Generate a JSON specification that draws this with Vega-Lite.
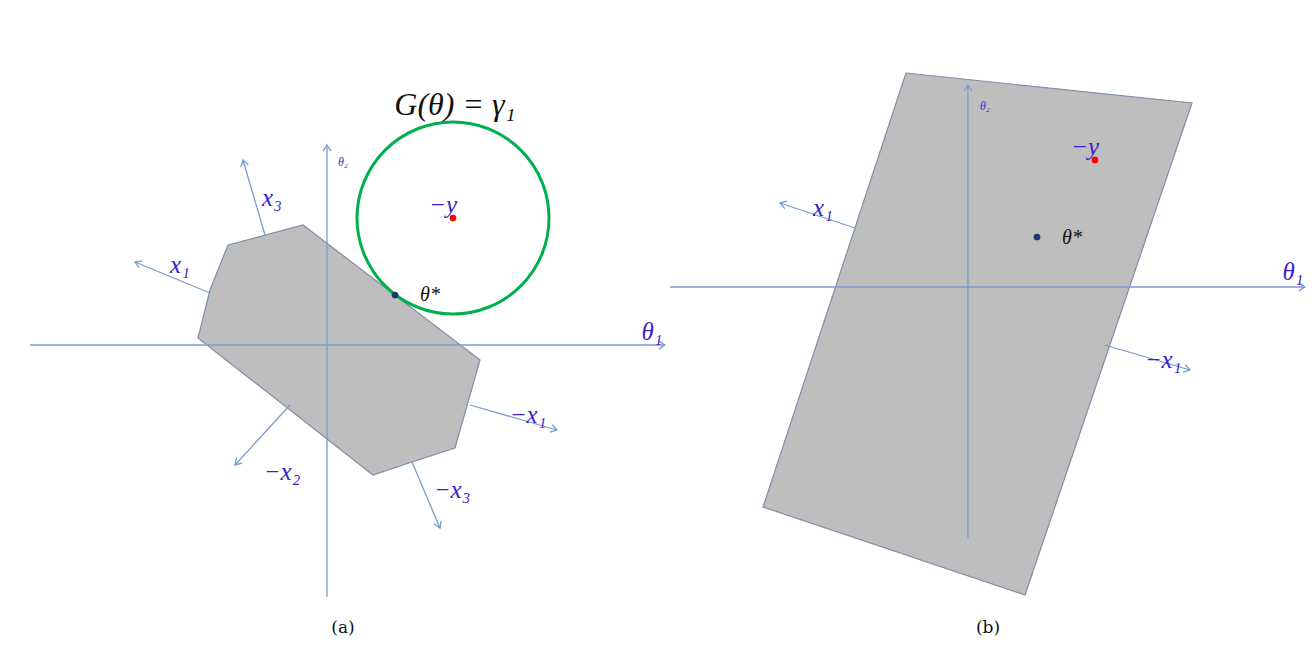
{
"$schema":"https://vega.github.io/schema/vega-lite/v6.json",
"width":1315,"height":645,"autosize":{"type":"none"},"padding":0,
"background":"white","config":{"view":{"stroke":null}},
"datasets":{
"poly":[
{"p":"a","i":0,"x":228,"y":245},{"p":"a","i":1,"x":303,"y":225},{"p":"a","i":2,"x":480,"y":360},{"p":"a","i":3,"x":455,"y":448},{"p":"a","i":4,"x":412,"y":462},{"p":"a","i":5,"x":373,"y":475},{"p":"a","i":6,"x":198,"y":338},{"p":"a","i":7,"x":210,"y":290},{"p":"a","i":8,"x":228,"y":245},
{"p":"b","i":0,"x":906,"y":73},{"p":"b","i":1,"x":1192,"y":103},{"p":"b","i":2,"x":1025,"y":595},{"p":"b","i":3,"x":763,"y":507},{"p":"b","i":4,"x":906,"y":73}],
"lines":[
{"g":"ah","i":0,"x":30,"y":345},{"g":"ah","i":1,"x":665,"y":345},
{"g":"av","i":0,"x":327,"y":597},{"g":"av","i":1,"x":327,"y":145},
{"g":"x3","i":0,"x":265,"y":235},{"g":"x3","i":1,"x":243,"y":160},
{"g":"x1","i":0,"x":210,"y":293},{"g":"x1","i":1,"x":135,"y":262},
{"g":"mx1","i":0,"x":470,"y":405},{"g":"mx1","i":1,"x":557,"y":430},
{"g":"mx2","i":0,"x":290,"y":405},{"g":"mx2","i":1,"x":235,"y":465},
{"g":"mx3","i":0,"x":412,"y":462},{"g":"mx3","i":1,"x":440,"y":528},
{"g":"bh","i":0,"x":670,"y":287},{"g":"bh","i":1,"x":1305,"y":287},
{"g":"bv","i":0,"x":968,"y":538},{"g":"bv","i":1,"x":968,"y":85},
{"g":"bx1","i":0,"x":855,"y":228},{"g":"bx1","i":1,"x":780,"y":203},
{"g":"bmx1","i":0,"x":1105,"y":345},{"g":"bmx1","i":1,"x":1190,"y":370}],
"heads":[
{"x":665,"y":345,"a":90},{"x":327,"y":145,"a":0},{"x":243,"y":160,"a":-16},{"x":135,"y":262,"a":-67},{"x":557,"y":430,"a":106},{"x":235,"y":465,"a":-137},{"x":440,"y":528,"a":157},
{"x":1305,"y":287,"a":90},{"x":968,"y":85,"a":0},{"x":780,"y":203,"a":-72},{"x":1190,"y":370,"a":106}],
"labels":[
{"t":"x₃","x":272,"y":198},{"t":"x₁","x":180,"y":265},{"t":"θ₁","x":652,"y":332},{"t":"−x₁","x":528,"y":415},{"t":"−x₂","x":282,"y":472},{"t":"−x₃","x":452,"y":490},{"t":"−y","x":443,"y":205},
{"t":"x₁","x":823,"y":208},{"t":"θ₁","x":1293,"y":272},{"t":"−x₁","x":1163,"y":360},{"t":"−y","x":1085,"y":147}],
"small":[{"t":"θ₂","x":343,"y":162},{"t":"θ₂","x":985,"y":106}],
"star":[{"t":"θ*","x":430,"y":295},{"t":"θ*","x":1072,"y":238}],
"cap":[{"t":"(a)","x":343,"y":628},{"t":"(b)","x":988,"y":628}],
"title":[{"t":"G(θ) = γ₁","x":455,"y":105}],
"circle":[{"x":453,"y":218}],
"pts":[{"x":453,"y":218,"c":"red"},{"x":395,"y":295,"c":"blue"},{"x":1095,"y":160,"c":"red"},{"x":1037,"y":237,"c":"blue"}]
},
"encoding":{
"x":{"field":"x","type":"quantitative","scale":{"domain":[0,1315],"nice":false,"zero":false},"axis":null},
"y":{"field":"y","type":"quantitative","scale":{"domain":[645,0],"nice":false,"zero":false},"axis":null}
},
"layer":[
{"data":{"name":"poly"},"mark":{"type":"line","fill":"#bebebe","stroke":"#7f8fa8","strokeWidth":1.2},"encoding":{"detail":{"field":"p"},"order":{"field":"i"}}},
{"data":{"name":"lines"},"mark":{"type":"line","stroke":"#7a9ccc","strokeWidth":1.3},"encoding":{"detail":{"field":"g"},"order":{"field":"i"}}},
{"data":{"name":"heads"},"mark":{"type":"point","shape":"M-1,1.6L0,0L1,1.6","filled":false,"stroke":"#7a9ccc","strokeWidth":1.3,"size":60,"opacity":1},"encoding":{"angle":{"field":"a","type":"quantitative","scale":null}}},
{"data":{"name":"circle"},"mark":{"type":"point","shape":"circle","filled":false,"stroke":"#00b050","strokeWidth":3,"size":36864,"opacity":1}},
{"data":{"name":"pts"},"mark":{"type":"point","shape":"circle","filled":true,"size":45,"opacity":1},"encoding":{"color":{"field":"c","type":"nominal","scale":{"domain":["red","blue"],"range":["#ff0000","#1f3864"]},"legend":null}}},
{"data":{"name":"labels"},"mark":{"type":"text","font":"Liberation Serif","fontStyle":"italic","fontSize":25,"color":"#3a1fcf","align":"center","baseline":"middle"},"encoding":{"text":{"field":"t"}}},
{"data":{"name":"small"},"mark":{"type":"text","font":"Liberation Serif","fontStyle":"italic","fontSize":12,"color":"#3a1fcf","align":"center","baseline":"middle"},"encoding":{"text":{"field":"t"}}},
{"data":{"name":"star"},"mark":{"type":"text","font":"Liberation Serif","fontStyle":"italic","fontSize":20,"color":"#111111","align":"center","baseline":"middle"},"encoding":{"text":{"field":"t"}}},
{"data":{"name":"cap"},"mark":{"type":"text","font":"DejaVu Serif","fontSize":17,"color":"#111111","align":"center","baseline":"middle"},"encoding":{"text":{"field":"t"}}},
{"data":{"name":"title"},"mark":{"type":"text","font":"Liberation Serif","fontStyle":"italic","fontSize":32,"color":"#111111","align":"center","baseline":"middle"},"encoding":{"text":{"field":"t"}}}
]
}
